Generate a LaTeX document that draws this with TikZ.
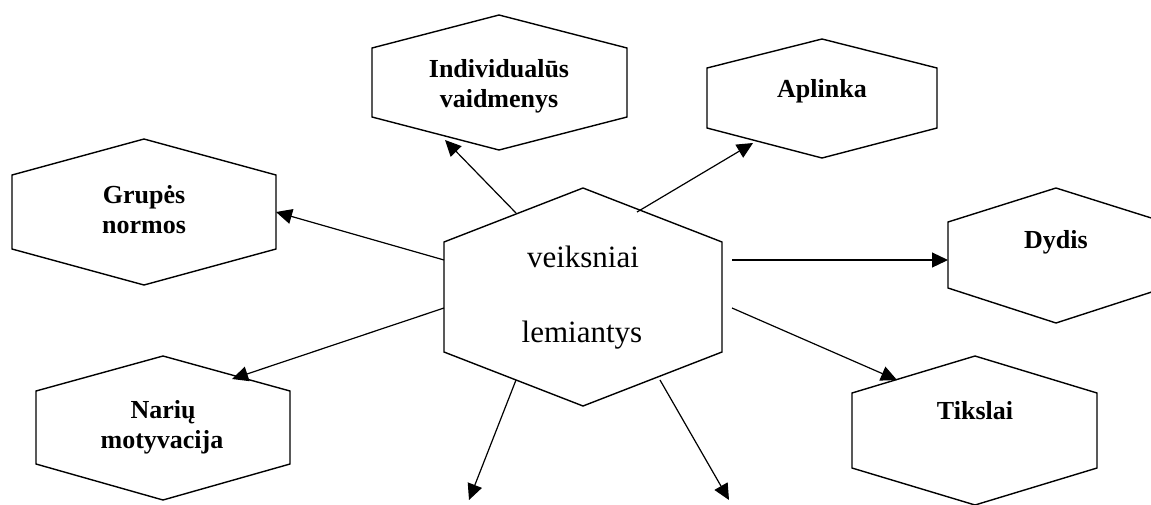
\documentclass[tikz,border=0pt]{standalone}
\usepackage{fontspec}
\setmainfont{Liberation Serif}
\usetikzlibrary{arrows.meta}
\begin{document}
\begin{tikzpicture}[x=1pt,y=-1pt,
  hex/.style={line width=1.4pt, line join=miter},
  conn/.style={line width=1.2pt, -{Triangle[length=16pt,width=15pt]}},
  lbl/.style={font=\fontsize{26}{30}\selectfont\bfseries, anchor=base, inner sep=0pt},
  big/.style={font=\fontsize{31}{36}\selectfont, anchor=base, inner sep=0pt}]
\useasboundingbox (0,0) rectangle (1151,504);
\clip (0,0) rectangle (1151,504);
% hexagons
\draw[hex] (372,48) -- (499,15) -- (627,48) -- (627,117) -- (499,150) -- (372,117) -- cycle;
\draw[hex] (707,68) -- (822,39) -- (937,68) -- (937,128) -- (822,158) -- (707,128) -- cycle;
\draw[hex] (12,175) -- (144,139) -- (276,175) -- (276,249) -- (144,285) -- (12,249) -- cycle;
\draw[hex] (444,242) -- (583,188) -- (722,242) -- (722,352) -- (583,406) -- (444,352) -- cycle;
\draw[hex] (948,222) -- (1056,188) -- (1164,222) -- (1164,288) -- (1056,323) -- (948,288) -- cycle;
\draw[hex] (852,393) -- (975,356) -- (1097,393) -- (1097,468) -- (975,505) -- (852,468) -- cycle;
\draw[hex] (36,391) -- (163,356) -- (290,391) -- (290,464) -- (163,500) -- (36,464) -- cycle;
% labels
\node[lbl] (ind1) at (499,77) {Individualūs};
\node[lbl] (ind2) at (499,107) {vaidmenys};
\node[lbl] (apl) at (822,97) {Aplinka};
\node[lbl] (grp1) at (144,203) {Grupės};
\node[lbl] (grp2) at (144,233) {normos};
\node[big] (c1) at (583,267) {veiksniai};
\node[big] (c2) at (582,342) {lemiantys};
\node[lbl] (dyd) at (1056,248) {Dydis};
\node[lbl] (tik) at (975,419) {Tikslai};
\node[lbl] (nar1) at (163,418) {Narių};
\node[lbl] (nar2) at (162,448) {motyvacija};
% connector ends
\coordinate (sG) at (444,260); \coordinate (tG) at (276,212);
\coordinate (sI) at (516,213); \coordinate (tI) at (445,140);
\coordinate (sA) at (637,212); \coordinate (tA) at (753,143);
\coordinate (sD) at (732,260); \coordinate (tD) at (948,260);
\coordinate (sT) at (732,308); \coordinate (tT) at (897,380);
\coordinate (sN) at (444,308); \coordinate (tN) at (232,379);
\coordinate (sL) at (516,380); \coordinate (tL) at (469,500);
\coordinate (sR) at (660,380); \coordinate (tR) at (729,500);
\draw[conn] (sG) -- (tG);
\draw[conn] (sI) -- (tI);
\draw[conn] (sA) -- (tA);
\draw[conn] (sD) -- (tD);
\draw[conn] (sT) -- (tT);
\draw[conn] (sN) -- (tN);
\draw[conn] (sL) -- (tL);
\draw[conn] (sR) -- (tR);
\end{tikzpicture}
\end{document}
